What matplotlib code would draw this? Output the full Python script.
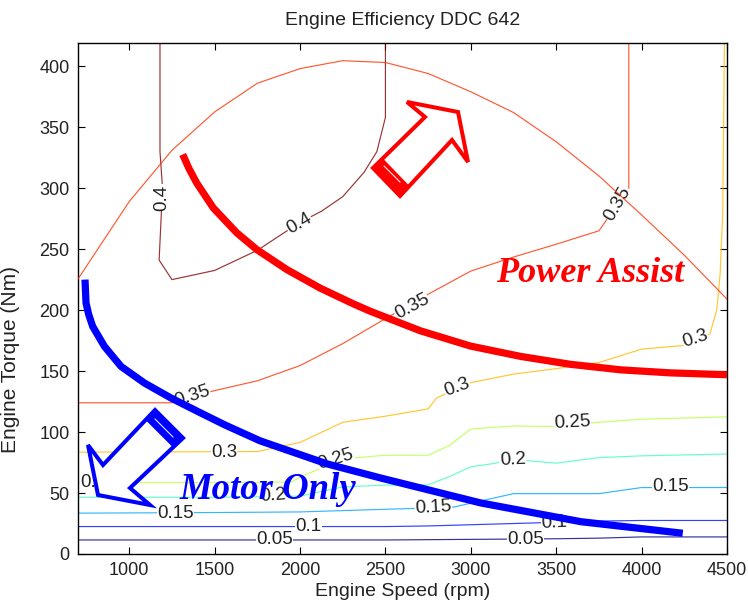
import matplotlib
matplotlib.use("Agg")
import matplotlib.pyplot as plt
from matplotlib.patches import Polygon

plt.rcParams['font.family'] = ['Liberation Sans', 'DejaVu Sans']

# contour lines of engine efficiency (rpm, Nm)
c05_rpm = [700, 2500, 3000, 3500, 3750, 4000, 4500]
c05_nm = [11.5, 11.5, 12, 12.5, 13, 14, 14]
c10_rpm = [700, 2500, 2750, 3000, 3250, 3500, 3750, 4000, 4500]
c10_nm = [22.5, 22.5, 23, 24, 25, 26, 27, 27.5, 27.5]
c15_rpm = [700, 1500, 2000, 2460, 2700, 2900, 3250, 3750, 4000, 4500]
c15_nm = [33.5, 34, 34.5, 36.5, 37.5, 38.5, 49.5, 49.5, 54.5, 54.5]
c20_rpm = [700, 1000, 1500, 2000, 2250, 2500, 2750, 2875, 3000, 3125, 3250, 3500, 3750, 4000, 4500]
c20_nm = [46.5, 46.5, 46.5, 47.5, 55, 56.5, 56.7, 63.5, 71.5, 74, 77.5, 74.5, 79, 80.5, 82]
c25_rpm = [700, 1000, 1500, 1950, 2000, 2250, 2500, 2750, 2875, 3000, 3250, 3500, 3750, 4000, 4500]
c25_nm = [58.5, 58.5, 58.5, 59, 63, 78, 81, 81, 89, 102.5, 105, 104.5, 108, 110.5, 112.5]
c30_rpm = [700, 1750, 2000, 2250, 2500, 2750, 2800, 3000, 3250, 3500, 3750, 4000, 4250, 4400, 4440, 4460, 4475, 4485]
c30_nm = [83.5, 84, 91.5, 108, 113, 119, 128, 140.5, 147.5, 152, 157, 168, 171, 180.5, 200, 230, 280, 420]
c35a_rpm = [700, 1000, 1250, 1500, 1750, 2000, 2250, 2500, 2750, 3000, 3250, 3500, 3750, 4000, 4250, 4500]
c35a_nm = [225.5, 289, 331, 362.5, 386, 398, 404.5, 403, 394, 379, 362, 338, 310, 278, 245, 209]
c35b_rpm = [700, 1000, 1250, 1500, 1750, 2000, 2250, 2500, 2750, 3000, 3250, 3500, 3750, 3800, 3850, 3925, 3925]
c35b_nm = [124, 124, 124, 134, 142, 154.5, 172.5, 193, 213, 232, 243.5, 254, 265, 275, 287, 298, 420]
c40_rpm = [1180, 1180, 1195, 1175, 1250, 1500, 1750, 2000, 2125, 2250, 2300, 2375, 2450, 2500, 2500]
c40_nm = [420, 330, 300, 241, 225, 232.5, 249, 272, 281, 293, 301, 313, 330, 358, 420]

# inline contour labels
lab_rpm = [1850, 3320, 2050, 3490, 1270, 2780, 4170, 1840, 3245, 820, 2210, 3595,
           1555, 2920, 4315, 1368, 2655, 3860, 1190, 1995]
lab_nm = [11.5, 12.2, 22.5, 25.5, 33.5, 38, 55, 47.5, 77.5, 58.5, 77.5, 107.5,
          83.5, 136.5, 176.5, 129.5, 203, 287, 292, 271]
lab_txt = ['0.05', '0.05', '0.1', '0.1', '0.15', '0.15', '0.15', '0.2', '0.2', '0.25', '0.25', '0.25',
           '0.3', '0.3', '0.3', '0.35', '0.35', '0.35', '0.4', '0.4']
lab_rot = [0, 0, 0, 3, 0, 3, 0, 4, 3, 0, 17, 3, 0, 20, 18, 18, 28, 60, 90, 30]

# hand drawn operating-mode curves
pa_rpm = [1313, 1350, 1395, 1492, 1630, 1747, 1923, 2118, 2314, 2412, 2705, 2998, 3292, 3585, 3878, 4171, 4500]
pa_nm = [327.6, 316, 304.2, 283.8, 263.3, 249.6, 233.2, 218, 205, 199, 183, 170.5, 162, 155.5, 151, 148.5, 147]
mo_rpm = [741, 747, 763, 786, 855, 952, 1090, 1246, 1402, 1559, 1766, 2158, 2470, 3057, 3644, 4241]
mo_nm = [225, 205.8, 196.2, 186.6, 170.2, 153.8, 140.1, 127.8, 116.8, 105.9, 92.8, 73.9, 62.4, 41.9, 26.5, 17]

contours = [(0.05, c05_rpm, c05_nm), (0.1, c10_rpm, c10_nm), (0.15, c15_rpm, c15_nm),
            (0.2, c20_rpm, c20_nm), (0.25, c25_rpm, c25_nm), (0.3, c30_rpm, c30_nm),
            (0.35, c35b_rpm, c35b_nm), (0.4, c40_rpm, c40_nm)]

W, H = 748, 608
fig = plt.figure(figsize=(W / 100, H / 100), dpi=100)
ax = fig.add_axes([78 / W, 1 - 554 / H, 649 / W, 511 / H])
jet = plt.get_cmap('jet')

def col(lev):
    return jet((lev - 0.05) / 0.35)

for lev, xs, ys in contours:
    ax.plot(xs, ys, color=col(lev), lw=0.85, alpha=0.8, zorder=2)
# outer 0.35 arc is drawn above the label boxes
ax.plot(c35a_rpm, c35a_nm, color=col(0.35), lw=0.85, alpha=0.8, zorder=4)

for x, y, t, r in zip(lab_rpm, lab_nm, lab_txt, lab_rot):
    ax.text(x, y, t, rotation=r, rotation_mode='anchor', ha='center', va='center',
            fontsize=13.5, color='#222222', zorder=3,
            bbox=dict(facecolor='white', edgecolor='none', pad=0.3))

ax.plot(pa_rpm, pa_nm, color='#ff0000', lw=5.2, solid_capstyle='butt',
        solid_joinstyle='round', zorder=6)
ax.plot(mo_rpm, mo_nm, color='#0000ff', lw=5.2, solid_capstyle='butt',
        solid_joinstyle='round', zorder=6)

ax.set_xlim(700, 4500)
ax.set_ylim(0, 419)
ax.set_xticks(range(1000, 4501, 500))
ax.set_yticks(range(0, 401, 50))
ax.tick_params(direction='in', top=True, right=True, length=5, width=0.8,
               labelsize=13, labelcolor='#222222', pad=6)
for s in ax.spines.values():
    s.set_linewidth(1.0)
ax.set_title('Engine Efficiency DDC 642', fontsize=14, color='#222222', pad=13)
ax.set_xlabel('Engine Speed (rpm)', fontsize=14, color='#222222', labelpad=3)
ax.set_ylabel('Engine Torque (Nm)', fontsize=15, color='#222222')
ax.yaxis.set_label_coords(-0.09, 0.38)

serif = ['Liberation Serif', 'DejaVu Serif']
ax.text(3700, 222.8, 'Power Assist', color='#ff0000', fontsize=26, family=serif,
        weight='bold', style='italic', ha='center', va='baseline', zorder=8)
ax.text(1810, 45, 'Motor Only', color='#0000ff', fontsize=26.5, family=serif,
        weight='bold', style='italic', ha='center', va='baseline', zorder=8)


def px(pts):
    return [(x / W, 1 - y / H) for x, y in pts]


def block_arrow(outline, band, line, color):
    ax.add_patch(Polygon(px(outline), closed=True, facecolor='white', edgecolor=color,
                         lw=2.9, joinstyle='miter', transform=fig.transFigure,
                         clip_on=False, zorder=7))
    ax.add_patch(Polygon(px(band), closed=True, facecolor=color, edgecolor=color,
                         lw=1.5, transform=fig.transFigure, clip_on=False, zorder=7))
    (x0, y0), (x1, y1) = px(line)
    ax.plot([x0, x1], [y0, y1], color='white', lw=0.7, transform=fig.transFigure,
            clip_on=False, zorder=7.5)


block_arrow([(155, 410), (183, 438), (130, 488), (150, 505), (98, 495), (88, 445), (103, 465)],
            [(155, 410), (183, 438), (174, 447), (146, 419)],
            [(155, 419), (173, 437)], '#0000ff')
block_arrow([(373, 168), (400, 196), (452, 140), (468, 162), (458, 112), (407, 102), (425, 117)],
            [(373, 168), (400, 196), (409, 187), (382, 159)],
            [(384, 166), (400, 182)], '#ff0000')

fig.savefig('out.png', dpi=100)
